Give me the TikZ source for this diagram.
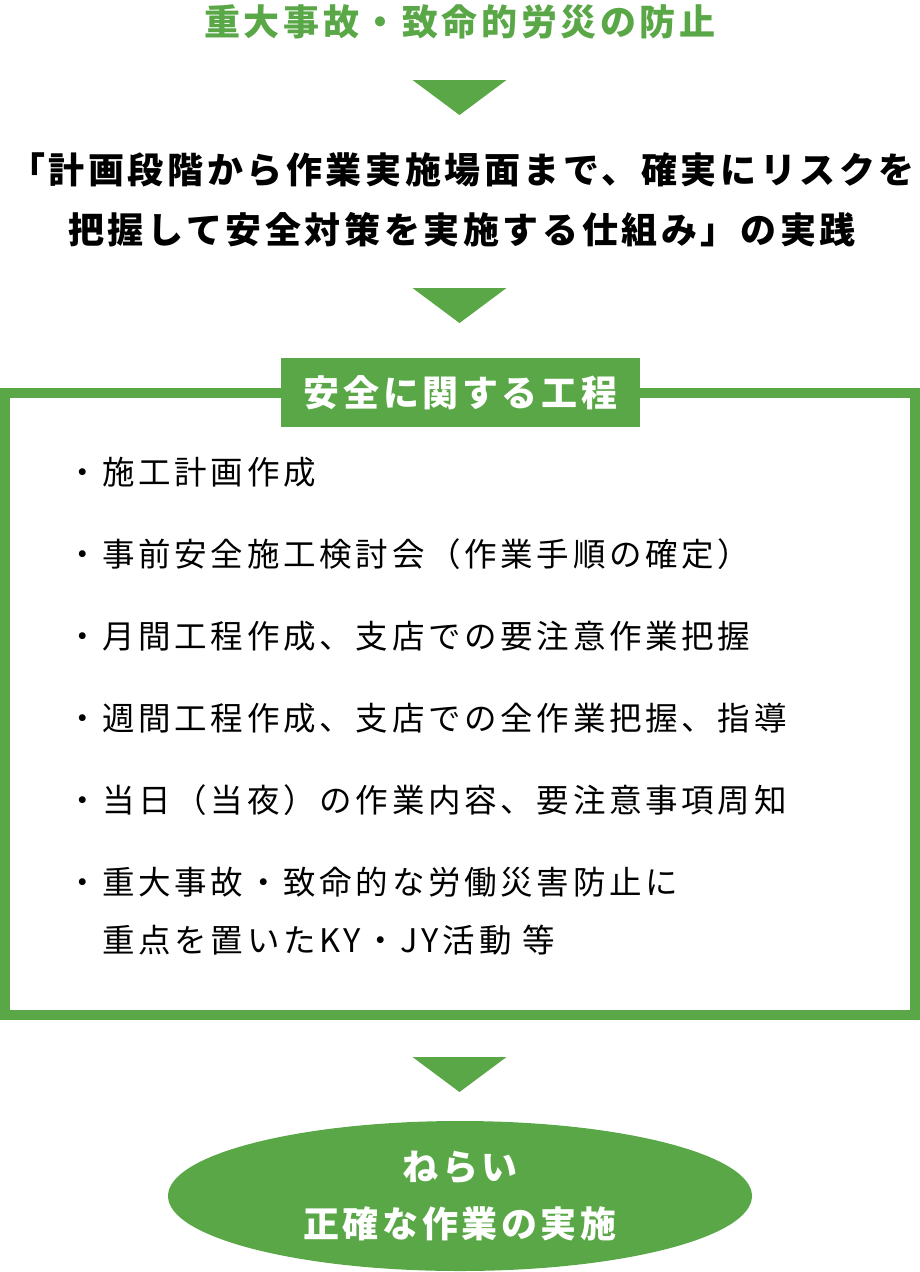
\documentclass[tikz,border=0pt]{standalone}
\usepackage{fontspec}
\setmainfont{Noto Sans CJK JP}
\newfontfamily\jpwide[LetterSpace=10]{Noto Sans CJK JP}
\newfontfamily\jpitem[LetterSpace=11.4]{Noto Sans CJK JP}
\usetikzlibrary{shapes.geometric}
\definecolor{kgreen}{RGB}{90,167,71}
\tikzset{
  titletext/.style={font=\jpwide\bfseries\fontsize{36}{44}\selectfont, text=kgreen, inner sep=0},
  leadtext/.style={font=\jpwide\bfseries\fontsize{36}{60}\selectfont, align=center, inner sep=0, text=black},
  headtext/.style={font=\jpwide\bfseries\fontsize{36}{44}\selectfont, text=white, inner sep=0},
  itemtext/.style={font=\jpitem\fontsize{32.5}{40}\selectfont, anchor=west, inner sep=0, text=black},
  goaltext/.style={font=\jpwide\bfseries\fontsize{36}{57}\selectfont, text=white, align=center},
  downtri/.pic={\fill[kgreen] (-47,0) -- (47,0) -- (0,35) -- cycle;}
}
\begin{document}
\begin{tikzpicture}[x=1pt,y=-1pt]
\useasboundingbox (0,0) rectangle (920,1272);
% title
\node[titletext] (title) at (460,22) {重大事故・致命的労災の防止};
\pic at (459.5,80) {downtri};
% lead
\node[leadtext] (lead) at (462,200) {「計画段階から作業実施場面まで、確実にリスクを\\把握して安全対策を実施する仕組み」の実践};
\pic at (459.5,288) {downtri};
% framed box
\draw[kgreen, line width=10] (5,393) rectangle (915,1015);
\node[fill=kgreen, minimum width=359, minimum height=69, inner sep=0] (headbox) at (460.5,392.5) {};
\node[headtext] (head) at (headbox.center) {安全に関する工程};
% items
\node[itemtext] (i1) at (66,472) {・施工計画作成};
\node[itemtext] (i2) at (66,554) {・事前安全施工検討会（作業手順の確定）};
\node[itemtext] (i3) at (66,636) {・月間工程作成、支店での要注意作業把握};
\node[itemtext] (i4) at (66,718) {・週間工程作成、支店での全作業把握、指導};
\node[itemtext] (i5) at (66,800) {・当日（当夜）の作業内容、要注意事項周知};
\node[itemtext] (i6) at (66,882) {・重大事故・致命的な労働災害防止に};
\node[itemtext] (i6b) at (102.2,940) {重点を置いたKY・JY活動 等};
% arrow to goal
\pic at (459.5,1057) {downtri};
\node[ellipse, fill=kgreen, minimum width=584, minimum height=150, inner sep=0] (goal) at (460,1196) {};
\node[goaltext] (goaltxt) at (goal.center) {ねらい\\正確な作業の実施};
\end{tikzpicture}
\end{document}
